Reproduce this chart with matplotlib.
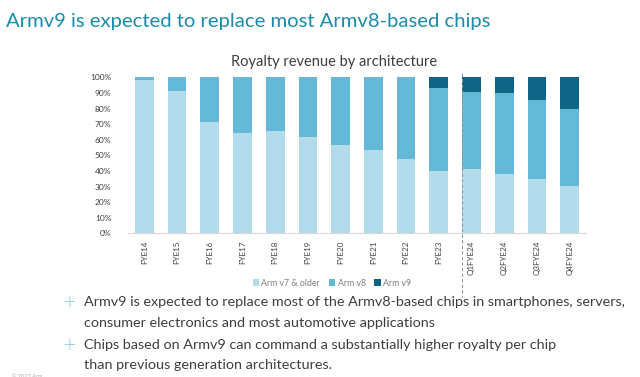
import numpy as np
import matplotlib.pyplot as plt
from matplotlib.lines import Line2D
from matplotlib.ticker import PercentFormatter

periods = ["FYE14", "FYE15", "FYE16", "FYE17", "FYE18", "FYE19", "FYE20",
           "FYE21", "FYE22", "FYE23", "Q1FYE24", "Q2FYE24", "Q3FYE24", "Q4FYE24"]
arm_v7 = [98.3, 91.2, 71.2, 64.5, 65.8, 61.7, 56.4, 53.2, 47.8, 40.1, 41.4, 37.8, 34.6, 30.1]
arm_v9 = [0, 0, 0, 0, 0, 0, 0, 0, 0, 7.1, 9.6, 10.3, 14.5, 20.1]
arm_v8 = [100 - a - b for a, b in zip(arm_v7, arm_v9)]
series_names = ["Arm v7 & older", "Arm v8", "Arm v9"]

col_v7 = "#b2dcec"
col_v8 = "#64b9d8"
col_v9 = "#0e6586"
teal = "#1b8cab"
text_col = "#3f3f3f"

plt.rcParams['font.family'] = ['Lato', 'DejaVu Sans']

fig = plt.figure(figsize=(6.4, 3.77), dpi=100)
W, H = 640, 377

# slide title
fig.text(6 / W, 1 - 22 / H, "Armv9 is expected to replace most Armv8-based chips",
         color=teal, fontsize=14.6, va="center", ha="left")

ax = fig.add_axes([128 / W, 1 - 233.3 / H, (586 - 128) / W, (233.3 - 77.3) / H])
x = np.arange(len(periods))
w = 0.57
ax.bar(x, arm_v7, w, color=col_v7, label=series_names[0])
ax.bar(x, arm_v8, w, bottom=arm_v7, color=col_v8, label=series_names[1])
ax.bar(x, arm_v9, w, bottom=np.array(arm_v7) + np.array(arm_v8), color=col_v9,
       label=series_names[2])

ax.set_xlim(-0.5, 13.5)
ax.set_ylim(0, 100)
ax.set_yticks(np.arange(0, 101, 10))
ax.yaxis.set_major_formatter(PercentFormatter(decimals=0))
ax.set_xticks(x)
ax.set_xticklabels(periods, rotation=90, fontsize=5.8, color=text_col)
ax.tick_params(axis="y", labelsize=6, colors=text_col, length=0, pad=12)
ax.tick_params(axis="x", length=0, pad=5)
for s in ["top", "right", "left"]:
    ax.spines[s].set_visible(False)
ax.spines["bottom"].set_color("#d9d9d9")

fig.text(334 / W, 1 - 62 / H, "Royalty revenue by architecture", fontsize=10.5,
         color=text_col, ha="center", va="center")

# dashed separator between annual and quarterly data
fig.add_artist(Line2D([462 / W, 462 / W], [1 - 73 / H, 1 - 297 / H],
                      color="#8a9aa5", lw=0.8, ls=(0, (3, 2))))

fig.legend(*ax.get_legend_handles_labels(), loc="center", bbox_to_anchor=(332 / W, 1 - 283 / H),
           ncol=3, frameon=False, fontsize=6.3, labelcolor="#7f7f7f", handlelength=0.7,
           handleheight=0.7, handletextpad=0.3, columnspacing=1.0, borderpad=0)

bullets = [
    (302, "Armv9 is expected to replace most of the Armv8-based chips in smartphones, servers,", True),
    (323, "consumer electronics and most automotive applications", False),
    (345, "Chips based on Armv9 can command a substantially higher royalty per chip", True),
    (365, "than previous generation architectures.", False),
]
for y, txt, mark in bullets:
    if mark:
        fig.text(62 / W, 1 - y / H, "+", color="#7cc6d6", fontsize=12, va="center",
                 ha="left", family="DejaVu Sans", fontweight="light")
    fig.text(84 / W, 1 - y / H, txt, color=text_col, fontsize=10.4, va="center", ha="left")

fig.text(12 / W, 1 - 376 / H, "\u00a9 2023 Arm", color="#b0b0b0", fontsize=4, va="center")

fig.savefig("out.png", dpi=100)
